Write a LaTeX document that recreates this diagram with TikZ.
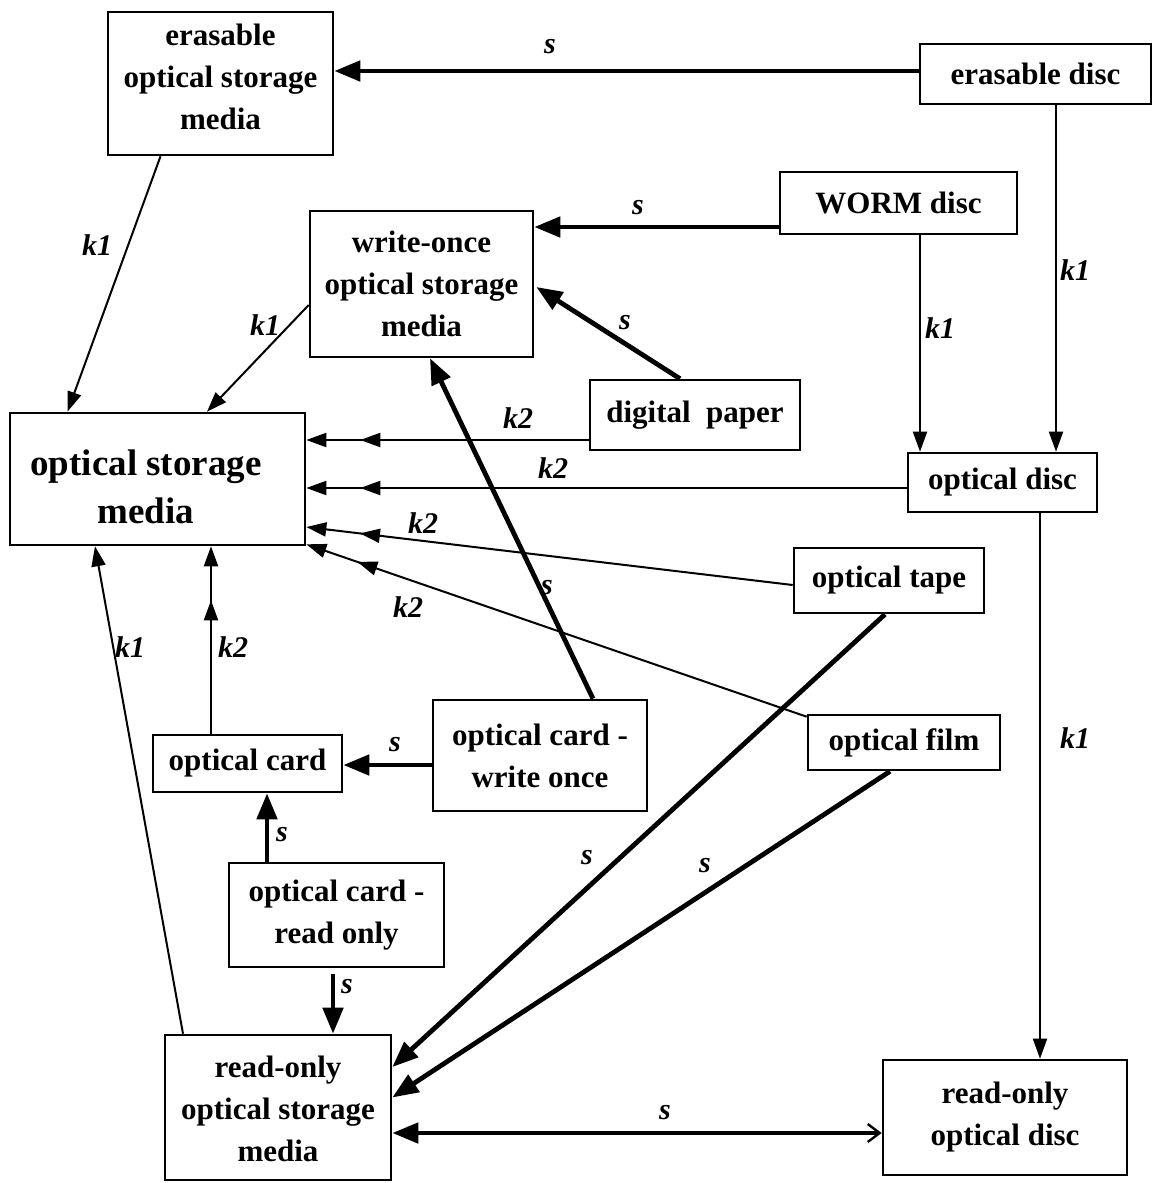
\documentclass[tikz,border=0pt]{standalone}
\usepackage{fontspec}
\setmainfont{Liberation Serif}
\usetikzlibrary{arrows.meta,calc,decorations.markings}
\newcommand\shiftstack[2]{\raisebox{#1}[\height][\depth]{\begin{tabular}{@{}c@{}}#2\end{tabular}}}
\begin{document}
\begin{tikzpicture}[x=0.5pt,y=-0.5pt,
 box/.style={draw,line width=1.3pt,inner sep=0pt,align=center,font=\bfseries\fontsize{15.5}{21}\selectfont},
 lbl/.style={font=\bfseries\itshape\fontsize{15}{18}\selectfont,inner sep=0pt},
 thinarr/.style={line width=1pt,-{Triangle[length=10pt,width=7pt]}},
 dblarr/.style={thinarr,postaction={decorate,decoration={markings,mark=at position -27pt with {\arrow{Triangle[length=10pt,width=7pt]}}}}},
 thickarr/.style={line width=2.4pt,-{Triangle[length=13pt,width=10pt]}},
]
\useasboundingbox (0,0) rectangle (1152,1183);

% nodes
\node[box,minimum width=112.5pt,minimum height=71.5pt] (eosm) at (220.5,83.5) {\shiftstack{2pt}{erasable\\optical storage\\media}};
\node[box,minimum width=115.5pt,minimum height=30pt] (edisc) at (1035.5,74) {erasable disc};
\node[box,minimum width=118.5pt,minimum height=31pt] (worm) at (898.5,203) {WORM disc};
\node[box,minimum width=111.5pt,minimum height=73pt] (wosm) at (421.5,284) {write-once\\optical storage\\media};
\node[box,minimum width=105pt,minimum height=35pt] (dpaper) at (695,415) {digital~~paper};
\node[box,font=\bfseries\fontsize{18.5}{24}\selectfont,minimum width=147.5pt,minimum height=66pt] (osm) at (157.5,479) {\shiftstack{-5.5pt}{optical storage\\media}\hspace{11.5pt}};
\node[box,minimum width=94.5pt,minimum height=29.5pt] (odisc) at (1002.5,482.5) {optical disc};
\node[box,minimum width=95pt,minimum height=32.5pt] (otape) at (889,580.5) {optical tape};
\node[box,minimum width=107pt,minimum height=55.5pt] (ocwo) at (540,755.5) {optical card -\\write once};
\node[box,minimum width=96pt,minimum height=27.5pt] (ofilm) at (904,742.5) {optical film};
\node[box,minimum width=94.5pt,minimum height=28.5pt] (ocard) at (247.5,763.5) {optical card};
\node[box,minimum width=107.5pt,minimum height=52pt] (ocro) at (336.5,915) {optical card -\\read only};
\node[box,minimum width=113pt,minimum height=72.5pt] (rosm) at (278,1107.5) {\shiftstack{-2pt}{read-only\\optical storage\\media}};
\node[box,minimum width=122pt,minimum height=57.5pt] (rodisc) at (1005,1117.5) {read-only\\optical disc};

% connectors
\draw[thickarr] ($(edisc.west)+(0,-3)$) coordinate (p1) -- (p1 -| eosm.east);
\draw[thinarr] ($(eosm.south)+(-60,0)$) -- ($(osm.north)+(-90,0)$);
\draw[thickarr] ($(worm.west)+(0,24)$) coordinate (p2) -- (p2 -| wosm.east);
\draw[thinarr] ($(wosm.west)+(0,21)$) -- ($(osm.north)+(49.5,0)$);
\draw[thickarr] ($(dpaper.north)+(-15,0)$) -- ($(wosm.east)+(2,3)$);
\draw[thinarr] ($(worm.south)+(21.5,0)$) coordinate (p3) -- (p3 |- odisc.north);
\draw[thinarr] ($(edisc.south)+(20.5,0)$) coordinate (p4) -- (p4 |- odisc.north);
\draw[dblarr] ($(dpaper.west)+(0,25)$) coordinate (p5) -- (p5 -| osm.east);
\draw[dblarr] ($(odisc.west)+(0,5.5)$) coordinate (p6) -- (p6 -| osm.east);
\draw[dblarr] ($(otape.west)+(0,4.5)$) -- ($(osm.east)+(0,48)$);
\draw[dblarr] ($(ofilm.north west)+(0,3)$) -- ($(osm.south east)+(0,-2)$);
\draw[dblarr] ($(ocard.north)+(-36.5,0)$) coordinate (p7) -- (p7 |- osm.south);
\draw[thinarr] ($(rosm.north)+(-95,0)$) -- ($(osm.south)+(-62.5,0)$);
\draw[thickarr] ($(ocwo.west)+(0,9.5)$) coordinate (p8) -- (p8 -| ocard.east);
\draw[thickarr] ($(ocwo.north)+(53,0)$) -- ($(wosm.south)+(8.5,0)$);
\draw[thickarr] ($(ocro.north)+(-69.5,0)$) coordinate (p9) -- (p9 |- ocard.south);
\draw[thickarr] ($(ocro.south)+(-3.5,6)$) coordinate (p10) -- (p10 |- rosm.north);
\draw[thickarr] ($(otape.south)+(-4,0)$) -- ($(rosm.east)+(0,-40.5)$);
\draw[thickarr] ($(ofilm.south)+(-14,0)$) -- ($(rosm.east)+(0,-10)$);
\draw[line width=2.4pt,{Triangle[length=13pt,width=10pt]}-{Straight Barb[length=6pt,width=9pt,line width=1.2pt]}] ($(rosm.east)+(0,25.5)$) coordinate (p11) -- (p11 -| rodisc.west);
\draw[thinarr] ($(odisc.south)+(37.5,0)$) coordinate (p12) -- (p12 |- rodisc.north);

% labels
\node[lbl] (l1) at (550,47) {s};
\node[lbl] (l2) at (97,245) {k1};
\node[lbl] (l3) at (638,208) {s};
\node[lbl] (l4) at (265,325) {k1};
\node[lbl] (l5) at (625,323) {s};
\node[lbl] (l6) at (940,328) {k1};
\node[lbl] (l7) at (1075,270) {k1};
\node[lbl] (l8) at (518,418) {k2};
\node[lbl] (l9) at (553,468) {k2};
\node[lbl] (l10) at (423,523) {k2};
\node[lbl] (l11) at (408,607) {k2};
\node[lbl] (l12) at (233,647) {k2};
\node[lbl] (l13) at (130,647) {k1};
\node[lbl] (l14) at (395,745) {s};
\node[lbl] (l15) at (547,588) {s};
\node[lbl] (l16) at (282,835) {s};
\node[lbl] (l17) at (347,987) {s};
\node[lbl] (l18) at (587,858) {s};
\node[lbl] (l19) at (705,866) {s};
\node[lbl] (l20) at (665,1113) {s};
\node[lbl] (l21) at (1075,738) {k1};
\end{tikzpicture}
\end{document}
